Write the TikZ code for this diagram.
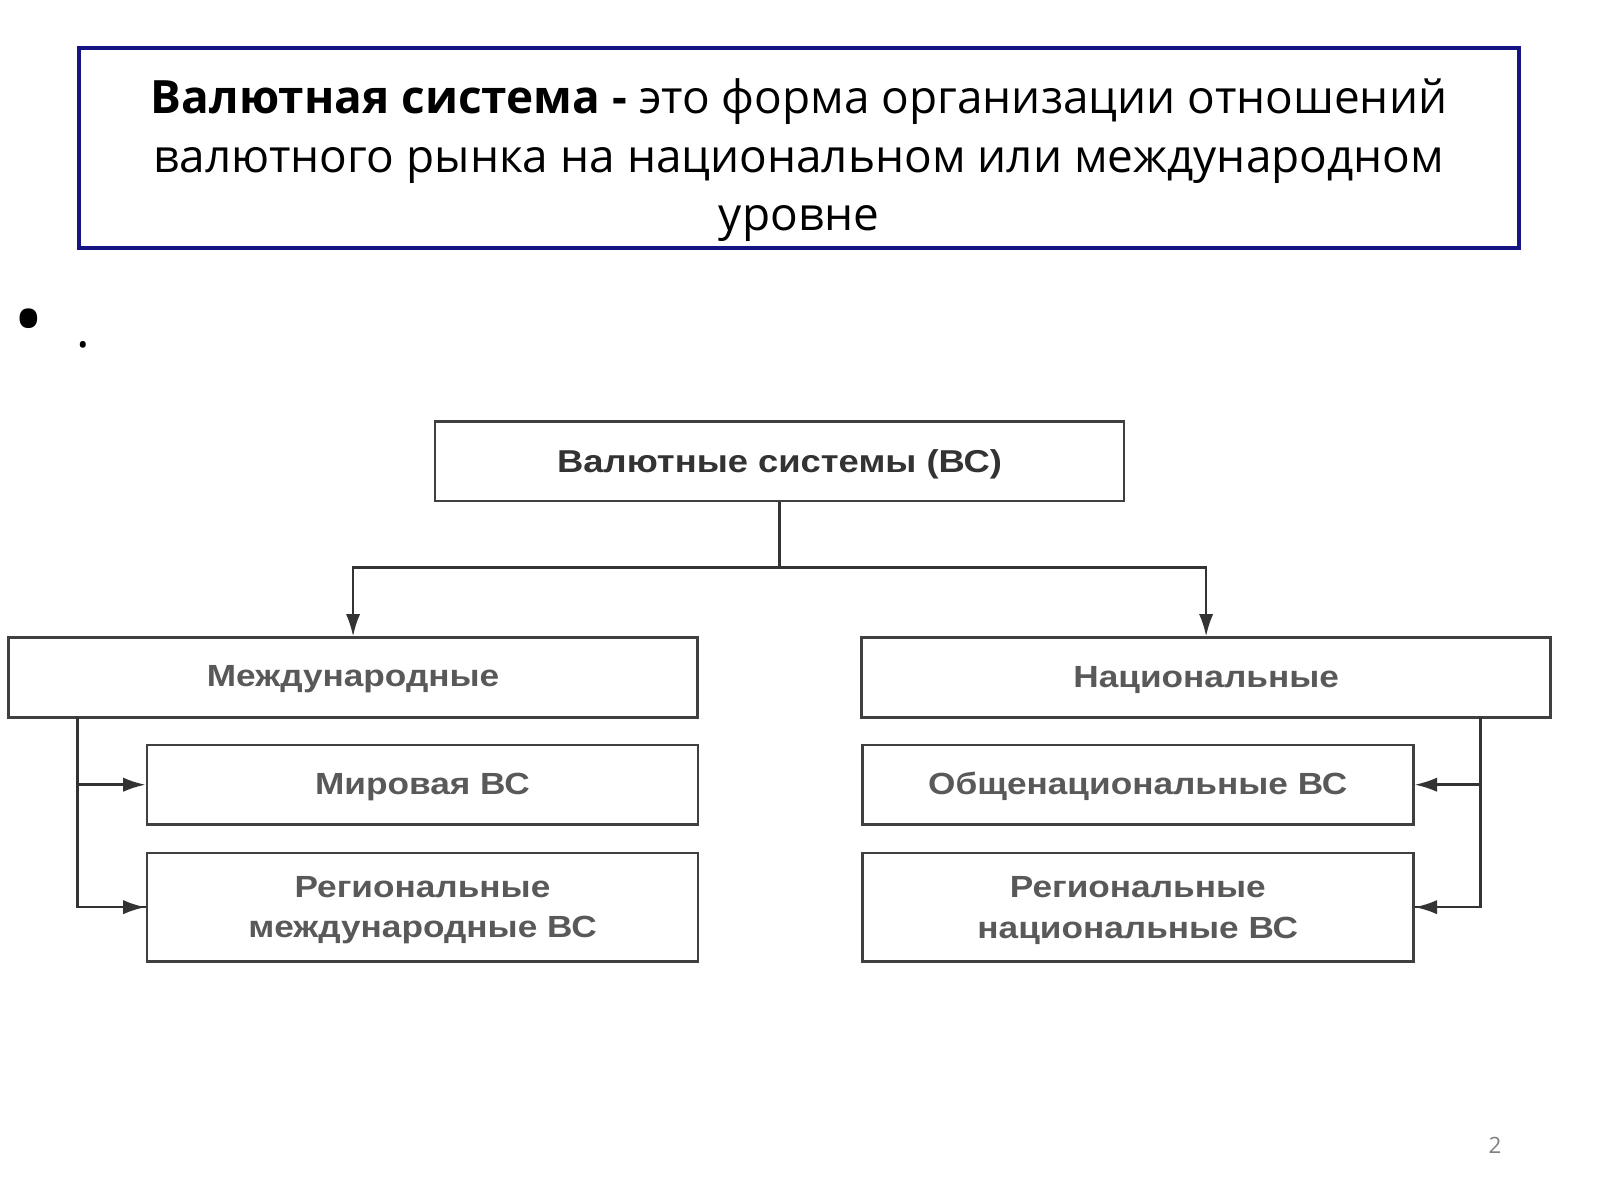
\documentclass[tikz,border=0pt]{standalone}
\usepackage{fontspec}
\setmainfont{Open Sans}
\newfontfamily\arl[FakeStretch=1.15]{Liberation Sans}
\usetikzlibrary{arrows.meta}
\begin{document}
\begin{tikzpicture}[x=1pt,y=-1pt,
 bx/.style={draw=black!75,line width=2.5pt,minimum height=78pt,align=center,inner sep=0pt},
 tx/.style={align=center,inner sep=0pt,font=\arl\fontsize{30}{40}\selectfont\bfseries,text=black!65},
 ln/.style={draw=black!80,line width=2.5pt},
 ar/.style={ln,-{Latex[length=22pt,width=14pt]}}]
\useasboundingbox (0,0) rectangle (1568,1176);
\node[draw={rgb,255:red,20;green,20;blue,130},line width=4pt,minimum width=1412pt,minimum height=196pt] (def) at (783,145) {};
\node[align=center,font=\fontsize{45}{57}\selectfont] (deft) at (783,157)
  {\textbf{Валютная система -} это форма организации отношений\\валютного рынка на национальном или международном\\уровне};
\node[font=\fontsize{80}{80}\selectfont] (b1) at (28,322) {•};
\node[font=\fontsize{50}{50}\selectfont] (b2) at (82,338) {.};
\node[bx,minimum width=675pt] (top) at (764,452) {};
\node[tx,font=\arl\fontsize{31}{40}\selectfont\bfseries,text=black!80] (topt) at (764,455) {Валютные системы (ВС)};
\node[bx,minimum width=675pt] (int) at (346,664) {};
\node[tx] (intt) at (346,666) {Международные};
\node[bx,minimum width=675pt] (nat) at (1182,664) {};
\node[tx] (natt) at (1182,666) {Национальные};
\node[bx,minimum width=540pt] (w) at (414,769) {};
\node[tx] (wt) at (414,771) {Мировая ВС};
\node[bx,minimum width=540pt,minimum height=106pt] (ri) at (414,889) {};
\node[tx] (rit) at (414,892) {Региональные\\международные ВС};
\node[bx,minimum width=540pt] (on) at (1115,769) {};
\node[tx] (ont) at (1115,771) {Общенациональные ВС};
\node[bx,minimum width=540pt,minimum height=106pt] (rn) at (1115,889) {};
\node[tx] (rnt) at (1115,892) {Региональные\\национальные ВС};
\coordinate (j) at (764,556);
\draw[ln] (top.south) -- (j);
\draw[ar] (j) -| (int.north);
\draw[ar] (j) -| (nat.north);
\coordinate (lt) at (76,703); \coordinate (rt) at (1451,703);
\draw[ln] (lt) |- (ri.west);
\draw[ar] (76,769) -- (w.west);
\draw[ar] (76,889) -- (ri.west);
\draw[ln] (rt) |- (rn.east);
\draw[ar] (1451,769) -- (on.east);
\draw[ar] (1451,889) -- (rn.east);
\node[text=black!50,font=\fontsize{22}{22}\selectfont] (pg) at (1465,1122) {2};
\end{tikzpicture}
\end{document}
